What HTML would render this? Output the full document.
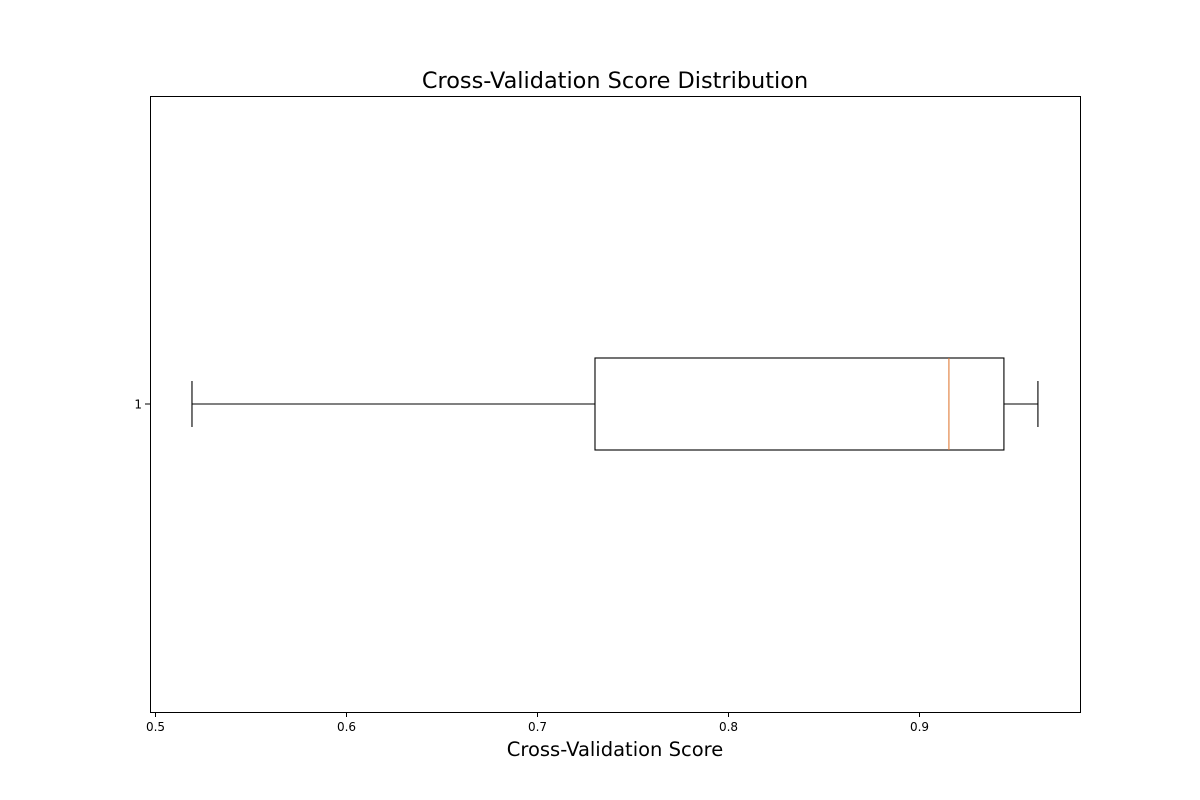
<!DOCTYPE html>
<html><head><meta charset="utf-8">
<style>
html,body{margin:0;padding:0;background:#fff;}
svg{display:block;font-family:"DejaVu Sans","Liberation Sans",sans-serif;}
</style></head>
<body>
<svg id="chart" width="1200" height="800" viewBox="0 0 1200 800">
<rect x="0" y="0" width="1200" height="800" fill="#fff"/>
<text x="615" y="88" font-size="22.4" text-anchor="middle">Cross-Validation Score Distribution</text>
<text x="615" y="756" font-size="19.5" text-anchor="middle">Cross-Validation Score</text>
<g id="marks"></g>
<rect x="150.5" y="96.5" width="930" height="616" fill="none" stroke="#000" stroke-width="1"/>
</svg>
<script>
const categories = ["1"];
const whiskerLow = [0.5191];
const q1 = [0.7301];
const median = [0.9154];
const q3 = [0.9442];
const whiskerHigh = [0.9620];
const xTicks = [0.5, 0.6, 0.7, 0.8, 0.9];
const xTickLabels = ["0.5", "0.6", "0.7", "0.8", "0.9"];

const L = 150, R = 1080, T = 96, B = 712;
const xMin = 0.49712, xMax = 0.98403;
function xs(v){ return L + (v - xMin) / (xMax - xMin) * (R - L); }
function ys(i){ return T + (B - T) * (i + 0.5) / categories.length; }

const NS = "http://www.w3.org/2000/svg";
const g = document.getElementById("marks");
function mk(tag, attrs){
  const e = document.createElementNS(NS, tag);
  for (const k in attrs) e.setAttribute(k, attrs[k]);
  g.appendChild(e);
  return e;
}

xTicks.forEach((t, i) => {
  const x = xs(t);
  const tk = mk("line", {x1:x, x2:x, y1:B, y2:B+5, stroke:"#000", "stroke-width":1});
  
  
  const lb = mk("text", {x:x, y:B+19, "font-size":12, "text-anchor":"middle"});
  lb.textContent = xTickLabels[i];
  
  
});

categories.forEach((c, i) => {
  const y = ys(i);
  const boxH = 92, capH = 46;
  const tk = mk("line", {x1:L-5, x2:L, y1:y, y2:y, stroke:"#000", "stroke-width":1});
  
  
  const lb = mk("text", {x:L-8, y:y+4.5, "font-size":12, "text-anchor":"end"});
  lb.textContent = c;
  
  

  const wl = mk("line", {x1:xs(whiskerLow[i]), x2:xs(q1[i]), y1:y, y2:y, stroke:"#000", "stroke-width":1.1});
  
  
  const wh = mk("line", {x1:xs(q3[i]), x2:xs(whiskerHigh[i]), y1:y, y2:y, stroke:"#000", "stroke-width":1.1});
  
  
  const cl = mk("line", {x1:xs(whiskerLow[i]), x2:xs(whiskerLow[i]), y1:y-capH/2, y2:y+capH/2, stroke:"#000", "stroke-width":1.1});
  
  
  const ch = mk("line", {x1:xs(whiskerHigh[i]), x2:xs(whiskerHigh[i]), y1:y-capH/2, y2:y+capH/2, stroke:"#000", "stroke-width":1.1});
  
  
  const bx = mk("rect", {x:xs(q1[i]), y:y-boxH/2, width:xs(q3[i])-xs(q1[i]), height:boxH, fill:"none", stroke:"#000", "stroke-width":1.1});
  
  
  const md = mk("line", {x1:xs(median[i]), x2:xs(median[i]), y1:y-boxH/2, y2:y+boxH/2, stroke:"#e07b39", "stroke-width":1.1});
  
  
});
</script>
</body></html>
